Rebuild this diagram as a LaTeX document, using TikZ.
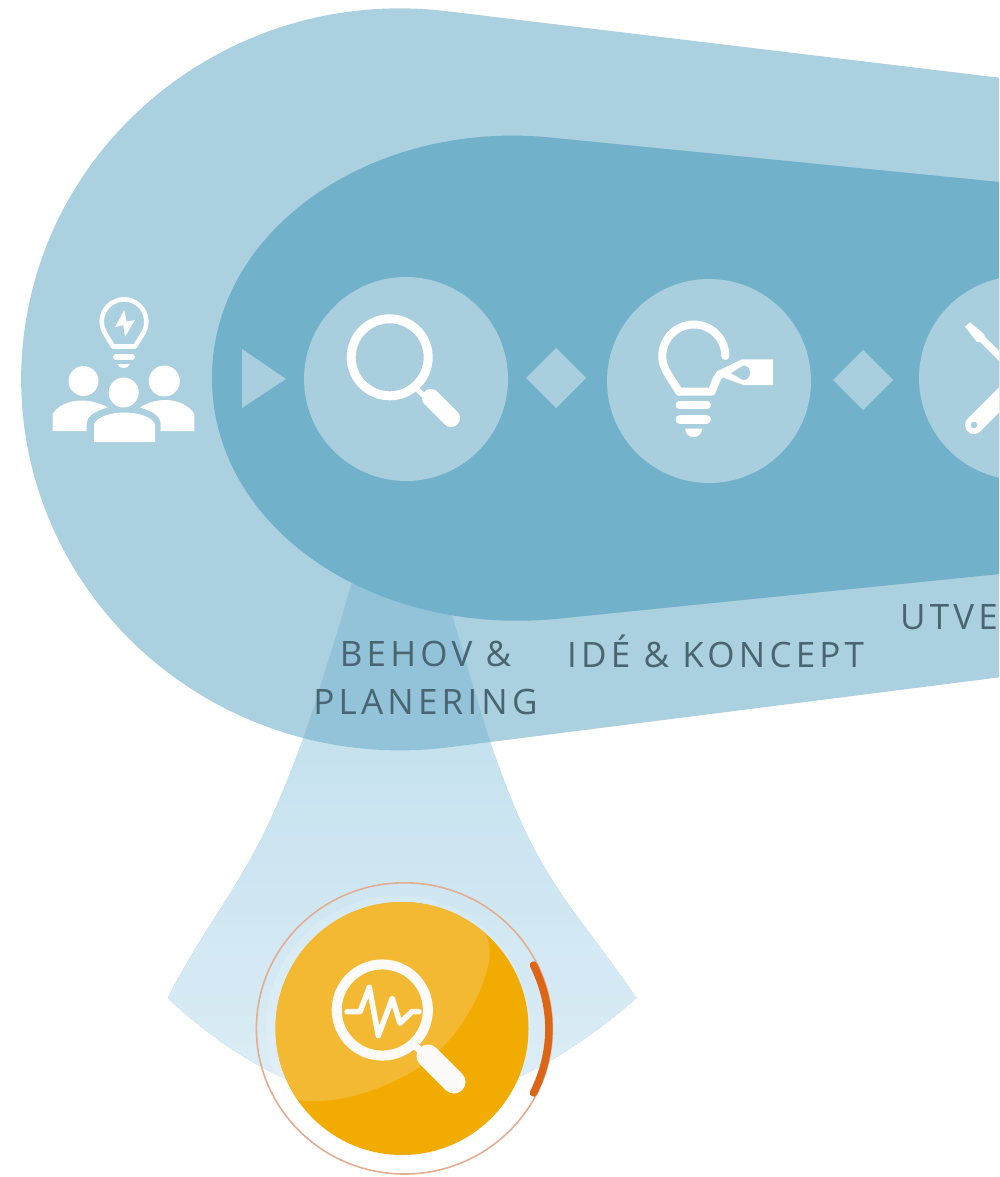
\documentclass[tikz,border=0pt]{standalone}
\usepackage{fontspec}
\newfontfamily\lblfont[LetterSpace=12]{Open Sans}
\definecolor{outerblue}{HTML}{ABD0DF}
\definecolor{innerblue}{HTML}{71B1CA}
\definecolor{discblue}{HTML}{A9CEDD}
\definecolor{overlapA}{HTML}{93C3D9}
\definecolor{funnelA}{HTML}{C6E2EF}
\definecolor{funnelB}{HTML}{DCEDF6}
\definecolor{labelink}{HTML}{4A6572}
\definecolor{goldbase}{HTML}{F2AB00}
\definecolor{goldlight}{HTML}{F4B933}
\definecolor{ringline}{HTML}{E3AD92}
\definecolor{ringarc}{HTML}{DC6516}
\definecolor{iconwhite}{HTML}{FCFBF9}
\tikzset{
  stagedisc/.style={fill=discblue,draw=none},
  stagemark/.style={fill=discblue,draw=none},
  iconline/.style={draw=white,line cap=round,line join=round},
  stagelabel/.style={text=labelink,font=\lblfont\fontsize{35}{48}\selectfont,align=center,inner sep=0pt}
}
\begin{document}
\begin{tikzpicture}[x=1pt,y=1pt,yscale=-1]
\useasboundingbox (0,0) rectangle (999,1177);
\fill[white] (0,0) rectangle (999,1177);
\clip (0,0) rectangle (999,1177);
% outer band
\def\outerpath{(1010,79) -- (445,11) arc[start angle=-83.2,end angle=-276.8,x radius=379pt,y radius=371pt] -- (1010,676) -- cycle}
\fill[outerblue] \outerpath;
% funnel, as stacked bands
\def\funnelpath{(352,582) .. controls (320,690) and (290,790) .. (250,860) .. controls (225,905) and (195,945) .. (168,998) .. controls (240,1065) and (320,1105) .. (402,1105) .. controls (484,1105) and (565,1060) .. (636,998) .. controls (600,945) and (565,905) .. (540,860) .. controls (500,790) and (475,690) .. (452,615) -- cycle}
\begin{scope}
  \clip \funnelpath;
  \foreach \k in {0,...,34}{
    \pgfmathsetmacro{\mixval}{\k*100/34}
    \fill[funnelB!\mixval!funnelA] (150,{700+\k*10+(\k>0)*45}) rectangle (650,1120);
  }
\end{scope}
\begin{scope}
  \clip \outerpath;
  \fill[overlapA] \funnelpath;
\end{scope}
% inner band
\fill[innerblue] (1010,183) -- (545,137) .. controls (370,122) and (212,230) .. (212,378) .. controls (212,526) and (370,636) .. (555,619) -- (1010,573) -- cycle;
% marks and discs
\fill[stagemark] (242,349) -- (286,379) -- (242,408) -- cycle;
\node[stagedisc,circle,minimum size=204pt,inner sep=0pt] (d1) at (406,379) {};
\node[stagedisc,circle,minimum size=204pt,inner sep=0pt] (d2) at (709,381) {};
\node[stagedisc,circle,minimum size=204pt,inner sep=0pt] (d3) at (1021,378) {};
\fill[stagemark] (556,348) -- (586,378) -- (556,408) -- (526,378) -- cycle;
\fill[stagemark] (863,350) -- (893,380) -- (863,410) -- (833,380) -- cycle;
% people and bulb icon
\draw[iconline,line width=4.6pt] (105.5,334) arc[start angle=146.3,end angle=393.7,radius=22.3pt] -- (135,346.5) -- (113,346.5) -- cycle;
\fill[white] (124.3,310) -- (115,327.3) -- (123.3,325) -- (125,336.7) -- (135,320) -- (126.5,321.5) -- cycle;
\draw[white,line width=6pt,line cap=round] (116,356.7) -- (132,356.7);
\fill[white] (117.3,364) -- (130.3,364) .. controls (128,369.5) and (119.5,369.5) .. (117.3,364) -- cycle;
\fill[white] (83.5,381) circle[radius=15pt] (164.3,381) circle[radius=15.5pt] (123.7,392.5) circle[radius=15pt];
\fill[white] (52.7,431) -- (52.7,414) .. controls (58,405) and (70,400.5) .. (82,400.5) .. controls (92,400.5) and (102,404) .. (107.5,407.5) .. controls (95,411) and (86.7,416) .. (86.7,424) -- (86.7,431) -- cycle;
\fill[white] (194.3,431) -- (194.3,414) .. controls (189,405) and (177,400) .. (165,400) .. controls (155,400) and (145,404) .. (140,407.5) .. controls (152,411) and (160.7,416) .. (160.7,424) -- (160.7,431) -- cycle;
\fill[white] (94,442) -- (94,424) .. controls (98,416) and (112,412.5) .. (124.5,412.5) .. controls (137,412.5) and (151,416) .. (155,424) -- (155,442) -- cycle;
% magnifier icon
\draw[white,line width=9pt] (389.7,357.3) circle[radius=38.5pt];
\draw[white,line width=5pt] (416,388) -- (428,400);
\draw[white,line width=18pt,line cap=round] (431,398) -- (451,418);
% bulb with tag icon
\draw[iconline,line width=8pt] (725.3,356) arc[start angle=0,end angle=-180,radius=31.5pt] .. controls (661.8,369) and (672,379) .. (679,391.7) -- (711.7,391.7) .. controls (714,386) and (716,379) .. (720,374);
\fill[white] (773,359.3) -- (741.7,359.3) -- (716.7,371.7) -- (722,377) -- (743.3,385) -- (773,385) -- cycle;
\fill[discblue] (731,373.3) -- (743,365.7) .. controls (747,365) and (750,369) .. (750,372.7) .. controls (750,377) and (747,380.5) .. (743,380) -- cycle;
\draw[white,line width=8pt,line cap=round] (679.5,405) -- (707,405);
\draw[white,line width=9pt,line cap=round] (680,419.3) -- (706.5,419.3);
\fill[white] (685,428.5) -- (702.3,428.5) .. controls (701,440) and (686,440) .. (685,428.5) -- cycle;
% tools icon
\fill[white] (970,322.3) -- (965,326.7) -- (977,342) -- (980,342) -- (1007,369) -- (1012,364) -- (985,337) -- (984,334) -- cycle;
\draw[white,line width=18pt,line cap=round] (974,425) -- (1012,387);
\fill[discblue] (974,425) circle[radius=3.3pt];
% labels
\node[stagelabel] (l1) at (425.5,678) {BEHOV \&\\PLANERING};
\node[stagelabel,anchor=base west] (l2) at (567,667) {IDÉ \& KONCEPT};
\node[stagelabel,anchor=base west] (l3) at (900,629) {UTVE};
% gold emblem
\node[circle,fill=white,fill opacity=.14,minimum size=264pt,inner sep=0pt] (halo) at (398,1028) {};
\node[circle,fill=goldbase,minimum size=253pt,inner sep=0pt] (gold) at (402,1028.5) {};
\begin{scope}
  \clip (402,1028.5) circle[radius=126.5pt];
  \fill[goldlight] (260,880) -- (462,900) .. controls (485,925) and (495,945) .. (487,970) .. controls (478,1005) and (450,1050) .. (410,1073) .. controls (375,1093) and (325,1108) .. (290,1098) -- (260,1100) -- cycle;
\end{scope}
\draw[ringline,line width=1.6pt] (404.4,1028.4) circle[x radius=148pt,y radius=145.6pt];
\draw[ringarc,line width=7.5pt,line cap=round] (533.5,965) .. controls (554,1007) and (554,1051) .. (533.5,1093);
% gold magnifier
\draw[iconwhite,line width=10pt] (382.3,1010) circle[radius=45.6pt];
\draw[iconwhite,line width=7pt] (413,1043) -- (426,1057);
\draw[iconwhite,line width=23pt,line cap=round] (428,1056) -- (454,1082);
\draw[iconwhite,line width=5.5pt,line join=round,line cap=round] (347,1011.7) -- (360,1011.7) -- (369.3,987.3) -- (378.3,1035.7) -- (392.3,998.3) -- (400,1023.3) -- (411.7,1011.7) -- (419,1011.7);
\end{tikzpicture}
\end{document}
